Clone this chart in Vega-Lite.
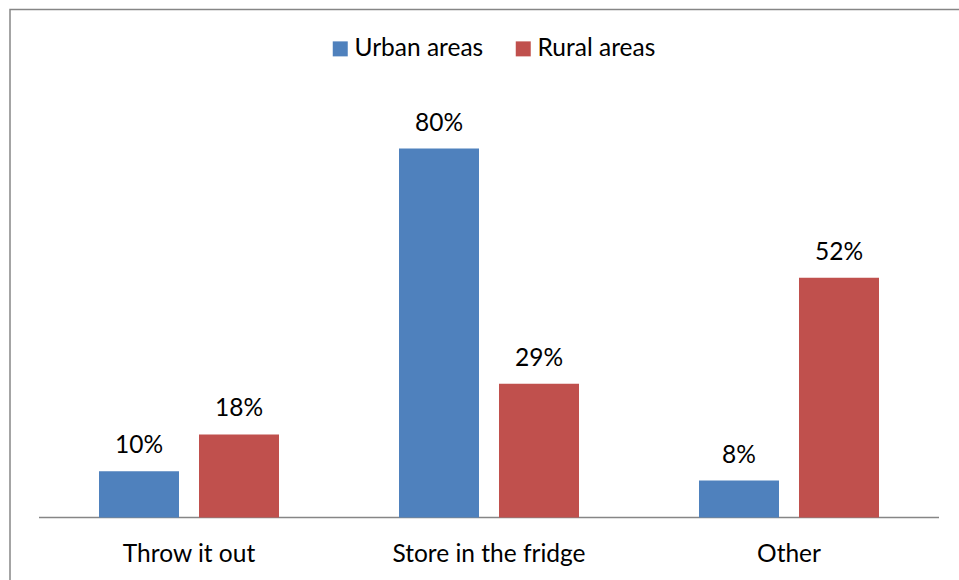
{
  "$schema": "https://vega.github.io/schema/vega-lite/v6.json",
  "autosize": {"type": "none"},
  "padding": {"left": 10, "top": 9.5, "right": 0, "bottom": 0},
  "width": 958,
  "height": 590,
  "background": "white",
  "config": {
    "view": {"stroke": "#868686", "strokeWidth": 1.5},
    "font": "Lato",
    "text": {"font": "Lato"}
  },
  "datasets": {
    "main": [
      {"category": "Throw it out", "area": "Urban areas", "value": 0.10},
      {"category": "Throw it out", "area": "Rural areas", "value": 0.18},
      {"category": "Store in the fridge", "area": "Urban areas", "value": 0.80},
      {"category": "Store in the fridge", "area": "Rural areas", "value": 0.29},
      {"category": "Other", "area": "Urban areas", "value": 0.08},
      {"category": "Other", "area": "Rural areas", "value": 0.52}
    ],
    "bands": [
      {"category": "Throw it out", "lo": -0.0018, "hi": 0.0018},
      {"category": "Store in the fridge", "lo": -0.0018, "hi": 0.0018},
      {"category": "Other", "lo": -0.0018, "hi": 0.0018}
    ]
  },
  "layer": [
    {
      "data": {"name": "bands"},
      "mark": {"type": "bar", "color": "#868686"},
      "encoding": {
        "x": {
          "field": "category", "type": "nominal",
          "scale": {"domain": ["Throw it out", "Store in the fridge", "Other"], "paddingInner": 0, "paddingOuter": 0.09667},
          "axis": {
            "title": null, "orient": "bottom", "offset": -82.5,
            "domain": false, "ticks": false, "tickSize": 0, "grid": false,
            "labelAngle": 0, "labelFont": "Lato", "labelFontSize": 24.5,
            "labelColor": "#000000", "labelBaseline": "alphabetic",
            "labelPadding": 44, "labelLimit": 400
          }
        },
        "y": {"field": "hi", "type": "quantitative", "scale": {"domain": [-0.1778, 1.1014], "nice": false, "zero": false}, "axis": null},
        "y2": {"field": "lo"}
      }
    },
    {
      "data": {"name": "main"},
      "encoding": {
        "x": {"field": "category", "type": "nominal"},
        "y": {"field": "value", "type": "quantitative"}
      },
      "layer": [
        {
          "mark": {"type": "bar"},
          "encoding": {
            "xOffset": {
              "field": "area", "type": "nominal",
              "scale": {"domain": ["Urban areas", "Rural areas"], "paddingInner": 0.2, "paddingOuter": 0.6}
            },
            "y2": {"datum": 0},
            "color": {
              "field": "area", "type": "nominal",
              "scale": {"domain": ["Urban areas", "Rural areas"], "range": ["#4F81BD", "#C0504D"]},
              "legend": {
                "title": null, "orient": "none", "direction": "horizontal",
                "legendX": 318, "legendY": 27,
                "symbolType": "square", "symbolSize": 225, "symbolStrokeWidth": 0,
                "labelFont": "Lato", "labelFontSize": 24.5, "labelColor": "#000000",
                "labelOffset": 2, "columnPadding": 27
              }
            }
          }
        },
        {
          "mark": {"type": "text", "baseline": "alphabetic", "dy": -18, "fontSize": 24.5, "font": "Lato", "color": "#000000"},
          "encoding": {
            "xOffset": {"field": "area", "type": "nominal"},
            "text": {"field": "value", "type": "quantitative", "format": ".0%"}
          }
        }
      ]
    }
  ]
}
